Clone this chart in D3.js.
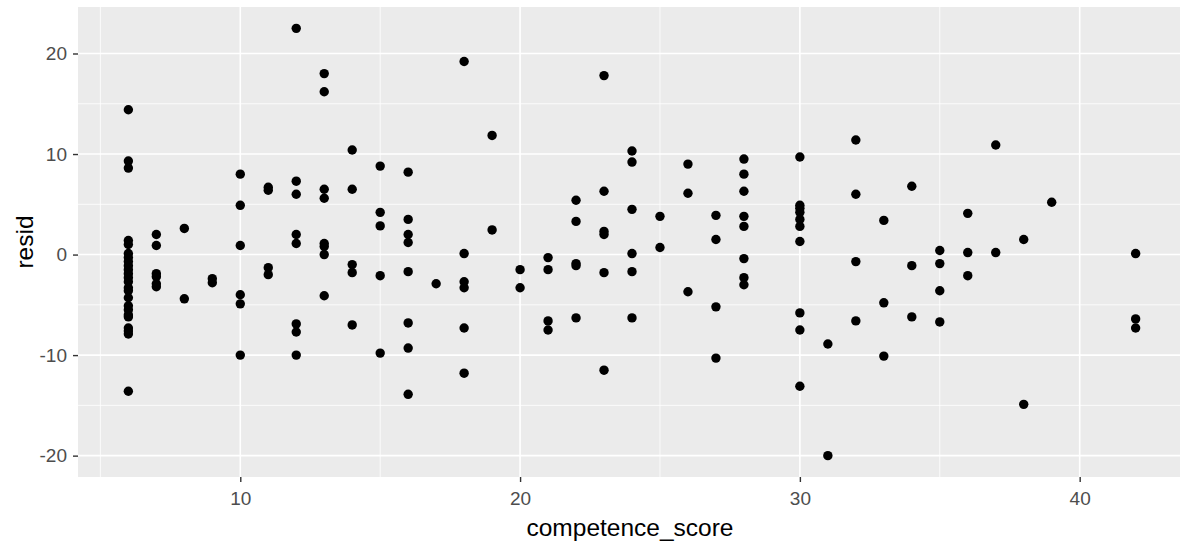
<!DOCTYPE html>
<html>
<head>
<meta charset="utf-8">
<script src="https://cdn.jsdelivr.net/npm/d3@7"></script>
<style>
  body { margin: 0; background: #fff; }
  svg { display: block; font-family: "Liberation Sans", Arial, sans-serif; }
</style>
</head>
<body>
<div id="chart"></div>
<script>
// competence_score (x) and resid (y)
var score = [
  6,6,6,6,6,6,6,6,6,6,6,6,6,6,6,6,6,6,6,6,6,6,6,6,
  7,7,7,7,7,7,
  8,8,
  9,9,
  10,10,10,10,10,10,
  11,11,11,11,
  12,12,12,12,12,12,12,12,
  13,13,13,13,13,13,13,13,
  14,14,14,14,14,
  15,15,15,15,15,
  16,16,16,16,16,16,16,16,
  17,
  18,18,18,18,18,18,
  19,19,
  20,20,
  21,21,21,21,
  22,22,22,22,22,
  23,23,23,23,23,23,
  24,24,24,24,24,24,
  25,25,
  26,26,26,
  27,27,27,27,
  28,28,28,28,28,28,28,28,
  30,30,30,30,30,30,30,30,30,30,
  31,31,
  32,32,32,32,
  33,33,33,
  34,34,34,
  35,35,35,35,
  36,36,36,
  37,37,
  38,38,
  39,
  42,42,42
];
var resid = [
  14.4,9.3,8.6,1.4,1.0,0.1,-0.3,-0.7,-1.1,-1.5,-1.9,-2.3,-2.7,-3.3,-3.6,-4.3,-5.1,-5.5,-6.0,-6.2,-7.3,-7.6,-7.9,-13.6,
  2.0,0.9,-1.9,-2.2,-2.9,-3.2,
  2.6,-4.4,
  -2.4,-2.8,
  8.0,4.9,0.9,-4.0,-4.9,-10.0,
  6.7,6.4,-1.3,-2.0,
  22.5,7.3,6.0,2.0,1.1,-6.9,-7.7,-10.0,
  18.0,16.2,6.5,5.6,1.1,0.8,0.0,-4.1,
  10.4,6.5,-1.0,-1.8,-7.0,
  8.8,4.2,2.85,-2.1,-9.8,
  8.2,3.5,2.0,1.2,-1.7,-6.8,-9.3,-13.9,
  -2.9,
  19.2,0.1,-2.7,-3.3,-7.3,-11.8,
  11.85,2.45,
  -1.5,-3.3,
  -0.3,-1.5,-6.6,-7.5,
  5.4,3.3,-0.9,-1.1,-6.3,
  17.8,6.3,2.3,2.0,-1.8,-11.5,
  10.3,9.2,4.5,0.1,-1.7,-6.3,
  3.8,0.7,
  9.0,6.1,-3.7,
  3.9,1.5,-5.2,-10.3,
  9.5,8.0,6.3,3.8,2.8,-0.4,-2.3,-3.0,
  9.7,4.9,4.6,4.2,3.5,2.8,1.3,-5.8,-7.5,-13.1,
  -8.9,-20.0,
  11.4,6.0,-0.7,-6.6,
  3.4,-4.8,-10.1,
  6.8,-1.1,-6.2,
  0.4,-0.9,-3.6,-6.7,
  4.1,0.2,-2.1,
  10.9,0.2,
  1.5,-14.9,
  5.2,
  0.1,-6.4,-7.3
];

var xTicks = [10, 20, 30, 40];
var xMinor = [5, 15, 25, 35, 45];
var yTicks = [-20, -10, 0, 10, 20];
var yMinor = [-15, -5, 5, 15];

var width = 1180, height = 542;
var panel = {left: 78, right: 1186, top: 7, bottom: 477};

var svg = d3.select("#chart").append("svg")
    .attr("width", width)
    .attr("height", height);

// ggplot-style 5% expansion around the data range
var xExt = d3.extent(score), yExt = d3.extent(resid);
var xPad = (xExt[1] - xExt[0]) * 0.05, yPad = (yExt[1] - yExt[0]) * 0.05;

var x = d3.scaleLinear()
    .domain([xExt[0] - xPad, xExt[1] + xPad])
    .range([panel.left, panel.right]);
var y = d3.scaleLinear()
    .domain([yExt[0] - yPad, yExt[1] + yPad])
    .range([panel.bottom, panel.top]);

// panel background
svg.append("rect")
    .attr("x", panel.left)
    .attr("y", panel.top)
    .attr("width", panel.right - panel.left)
    .attr("height", panel.bottom - panel.top)
    .attr("fill", "#EBEBEB");

var grid = svg.append("g");

// minor grid
grid.selectAll(".xminor").data(xMinor).enter().append("line")
    .attr("x1", d => x(d)).attr("x2", d => x(d))
    .attr("y1", panel.top).attr("y2", panel.bottom)
    .attr("stroke", "#fff").attr("stroke-width", 0.8);
grid.selectAll(".yminor").data(yMinor).enter().append("line")
    .attr("y1", d => y(d)).attr("y2", d => y(d))
    .attr("x1", panel.left).attr("x2", panel.right)
    .attr("stroke", "#fff").attr("stroke-width", 0.8);

// major grid
grid.selectAll(".xmajor").data(xTicks).enter().append("line")
    .attr("x1", d => x(d)).attr("x2", d => x(d))
    .attr("y1", panel.top).attr("y2", panel.bottom)
    .attr("stroke", "#fff").attr("stroke-width", 1.6);
grid.selectAll(".ymajor").data(yTicks).enter().append("line")
    .attr("y1", d => y(d)).attr("y2", d => y(d))
    .attr("x1", panel.left).attr("x2", panel.right)
    .attr("stroke", "#fff").attr("stroke-width", 1.6);

// axes (plain hyphen for negatives, like R)
var fmt = d => String(d);
var xAxis = svg.append("g")
    .attr("transform", "translate(0," + panel.bottom + ")")
    .call(d3.axisBottom(x).tickValues(xTicks).tickFormat(fmt).tickSize(5).tickPadding(10));
var yAxis = svg.append("g")
    .attr("transform", "translate(" + panel.left + ",0)")
    .call(d3.axisLeft(y).tickValues(yTicks).tickFormat(fmt).tickSize(5).tickPadding(6));

[xAxis, yAxis].forEach(function(ax){
  ax.select(".domain").remove();
  ax.selectAll(".tick line").attr("stroke", "#333333").attr("stroke-width", 1.4);
  ax.selectAll(".tick text")
    .attr("fill", "#4D4D4D")
    .style("font-size", "19px")
    .style("font-family", "'Liberation Sans', Arial, sans-serif");
});

// points
svg.append("g").selectAll("circle")
    .data(score)
    .enter()
    .append("circle")
    .attr("cx", d => x(d))
    .attr("cy", (d, i) => y(resid[i]))
    .attr("r", 4.7)
    .attr("fill", "#000");

// axis titles
svg.append("text")
    .attr("x", (panel.left + panel.right) / 2 - 2)
    .attr("y", 536)
    .attr("text-anchor", "middle")
    .style("font-size", "24.5px")
    .attr("fill", "#000")
    .text("competence_score");

svg.append("text")
    .attr("transform", "translate(33," + ((panel.top + panel.bottom) / 2) + ") rotate(-90)")
    .attr("text-anchor", "middle")
    .style("font-size", "24.5px")
    .attr("fill", "#000")
    .text("resid");
</script>
</body>
</html>
